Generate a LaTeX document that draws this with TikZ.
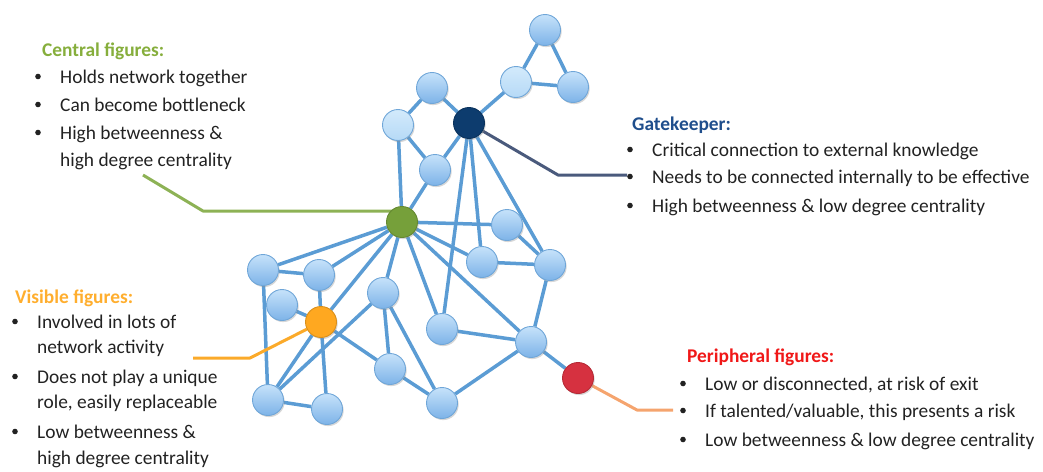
\documentclass[tikz,border=0pt]{standalone}
\usepackage{fontspec}
\setmainfont{Carlito}
\usetikzlibrary{shadows,backgrounds}

\definecolor{ink}{HTML}{222222}
\definecolor{edgeblue}{HTML}{5B9CD4}
\definecolor{nodeedge}{HTML}{6FA6D8}
\definecolor{nodetop}{HTML}{C6E2FA}
\definecolor{nodebot}{HTML}{7DB3E8}
\definecolor{palecol}{HTML}{C4E3FA}
\definecolor{centgreen}{HTML}{76A03A}
\definecolor{centline}{HTML}{8DB255}
\definecolor{centtitle}{HTML}{86AE3C}
\definecolor{gknavy}{HTML}{0D3C6E}
\definecolor{gkline}{HTML}{4A5A7C}
\definecolor{gktitle}{HTML}{1F4E8C}
\definecolor{visorange}{HTML}{FFA820}
\definecolor{visline}{HTML}{FBAA2A}
\definecolor{vistitle}{HTML}{FFAE2E}
\definecolor{perred}{HTML}{D63140}
\definecolor{perline}{HTML}{F5A46E}
\definecolor{pertitle}{HTML}{F01818}

\tikzset{
  x=1pt, y=-1pt,
  netnode/.style={circle, minimum size=31pt, inner sep=0pt, line width=0.9pt,
    drop shadow={shadow xshift=1.2pt, shadow yshift=-1.6pt, opacity=0.35, fill=black!45}},
  bluenode/.style={netnode, draw=nodeedge, top color=nodetop, bottom color=nodebot},
  palenode/.style={netnode, draw=nodeedge, top color=palecol!75!white, bottom color=palecol!80!nodebot},
  keynode/.style={netnode, draw=#1!85!black, fill=#1},
  link/.style={draw=edgeblue, line width=3.5pt},
  leader/.style={draw=#1, line width=3pt, line join=round},
  txt/.style={anchor=base west, inner sep=0pt, text=ink, font=\fontsize{19.4}{23}\selectfont},
  heading/.style={txt, text=#1, font=\fontsize{19.4}{23}\selectfont\bfseries},
}

% bullet point plus one line of text
\newcommand\bitem[4]{%
  \fill[ink] (#2-22,#3-6.5) circle (2.8pt);
  \node[txt] (#1) at (#2,#3) {#4};
}

\begin{document}
\begin{tikzpicture}
\useasboundingbox (0,0) rectangle (1043,471);

% ---- network nodes ----
\node[bluenode] (t1) at (545,30) {};
\node[palenode] (t2) at (516,82) {};
\node[bluenode] (t3) at (573,87) {};
\node[bluenode] (a)  at (432,88) {};
\node[palenode] (b)  at (398,125) {};
\node[keynode=gknavy] (gk) at (469,123) {};
\node[bluenode] (c)  at (435,170) {};
\node[keynode=centgreen] (cen) at (402,222) {};
\node[bluenode] (d)  at (507,225) {};
\node[bluenode] (e)  at (482,262) {};
\node[bluenode] (f)  at (550,265) {};
\node[bluenode] (g)  at (263,270) {};
\node[bluenode] (h)  at (319,275) {};
\node[bluenode] (i)  at (282,305) {};
\node[bluenode] (j)  at (383,293) {};
\node[keynode=visorange] (vis) at (321,322) {};
\node[bluenode] (k)  at (268,400) {};
\node[bluenode] (l)  at (327,409) {};
\node[bluenode] (m)  at (390,369) {};
\node[bluenode] (n)  at (442,329) {};
\node[bluenode] (o)  at (531,342) {};
\node[bluenode] (p)  at (442,403) {};
\node[keynode=perred] (per) at (578,378) {};

% ---- leader bends ----
\coordinate (gl1) at (143,175);
\coordinate (gl2) at (203,211);
\coordinate (kl1) at (558,175);
\coordinate (kl2) at (627,175);
\coordinate (vl1) at (193,358);
\coordinate (vl2) at (250,358);
\coordinate (pl1) at (637,410);
\coordinate (pl2) at (673,410);

\begin{pgfonlayer}{background}
  \foreach \u/\v in {t1/t2, t1/t3, t2/t3, t2/gk, a/gk, a/b, b/c, c/gk,
      b/cen, c/cen, gk/n, gk/e, gk/f, cen/d, cen/e, cen/o, cen/n, cen/j,
      cen/vis, cen/g, cen/h, g/h, g/k, h/vis, i/vis, vis/k, vis/l, vis/m,
      k/l, k/j, j/m, j/p, m/p, n/o, p/o, o/f, d/f, e/f, o/per}
    \draw[link] (\u) -- (\v);
  \draw[leader=centline] (gl1) -- (gl2) -- (gl2 -| cen);
  \draw[leader=gkline] (gk) -- (kl1) -- (kl2);
  \draw[leader=visline] (vl1) -- (vl2) -- (vis);
  \draw[leader=perline] (per) -- (pl1) -- (pl2);
\end{pgfonlayer}

% ---- central figures ----
\node[heading=centtitle] (centhead) at (42,56) {Central figures:};
\bitem{c1}{60}{83}{Holds network together}
\bitem{c2}{60}{111}{Can become bottleneck}
\bitem{c3}{60}{139}{High betweenness \&}
\node[txt] (c3b) at (60,166) {high degree centrality};

% ---- gatekeeper ----
\node[heading=gktitle] (gkhead) at (632,130) {Gatekeeper:};
\bitem{k1}{652}{156}{Critical connection to external knowledge}
\bitem{k2}{652}{183}{Needs to be connected internally to be effective}
\bitem{k3}{652}{212}{High betweenness \& low degree centrality}

% ---- visible figures ----
\node[heading=vistitle] (vishead) at (15,303) {Visible figures:};
\bitem{v1}{37}{328}{Involved in lots of}
\node[txt] (v1b) at (37,353) {network activity};
\bitem{v2}{37}{383}{Does not play a unique}
\node[txt] (v2b) at (37,408) {role, easily replaceable};
\bitem{v3}{37}{438}{Low betweenness \&}
\node[txt] (v3b) at (37,464) {high degree centrality};

% ---- peripheral figures ----
\node[heading=pertitle] (perhead) at (687,362) {Peripheral figures:};
\bitem{p1}{705}{390}{Low or disconnected, at risk of exit}
\bitem{p2}{705}{417}{If talented/valuable, this presents a risk}
\bitem{p3}{705}{446}{Low betweenness \& low degree centrality}
\end{tikzpicture}
\end{document}
